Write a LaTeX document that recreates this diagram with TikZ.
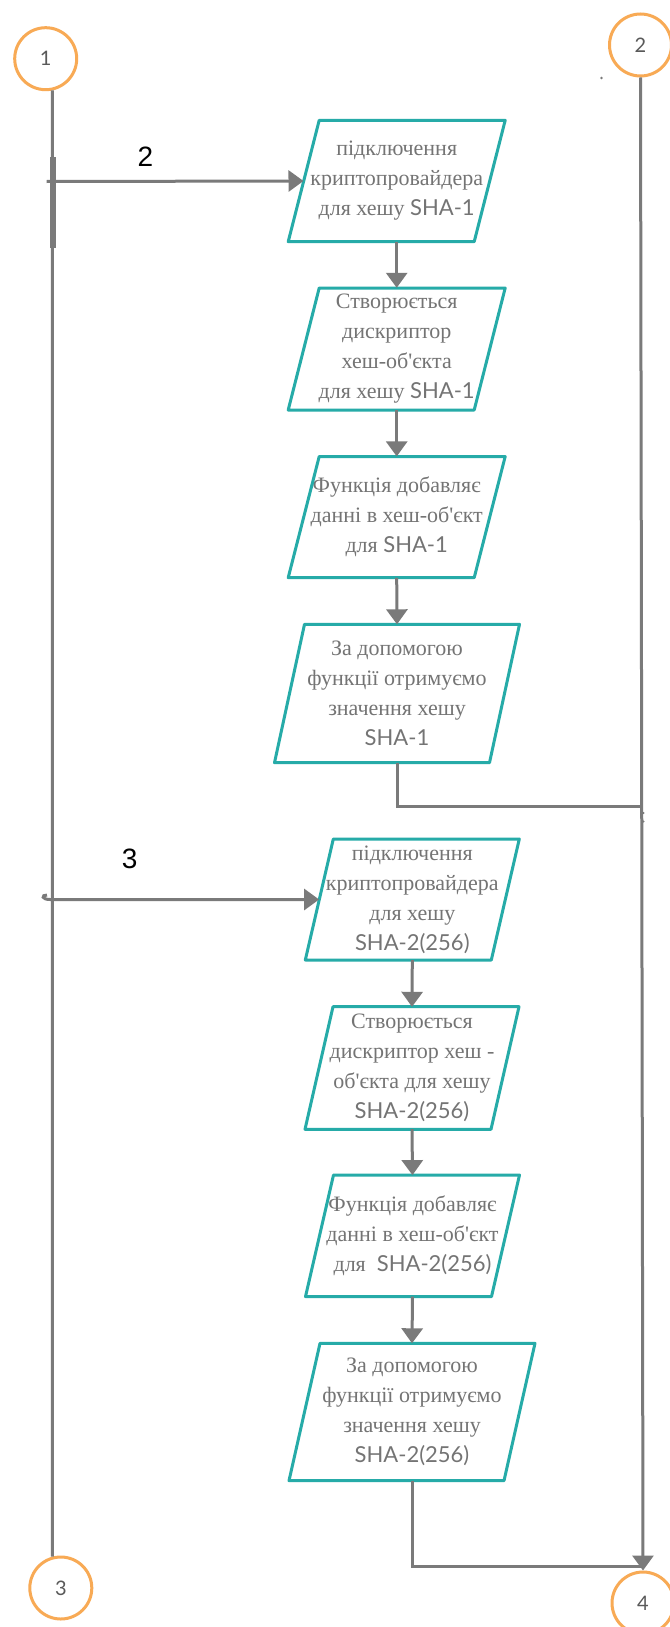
\documentclass[tikz,border=0pt]{standalone}
\usepackage{fontspec}
\usetikzlibrary{arrows.meta}
\newfontfamily\serf{Liberation Serif}
\newfontfamily\latof{Lato}
\newfontfamily\arialf{Liberation Sans}
\definecolor{tealc}{HTML}{26ABA8}
\definecolor{orangec}{HTML}{F8AA55}
\definecolor{linec}{HTML}{7A7A7A}
\definecolor{txtc}{HTML}{747474}
\newcommand\pgram[4]{%
  \draw[pline] ([shift={(-#2+#4,-#3)}]#1.center) -- ([shift={(#2+#4,-#3)}]#1.center)
   -- ([shift={(#2-#4,#3)}]#1.center) -- ([shift={(-#2-#4,#3)}]#1.center) -- cycle;}
\begin{document}
\begin{tikzpicture}[x=1pt,y=-1pt,
  pline/.style={draw=tealc,line width=3pt,line join=round},
  conn/.style={draw=linec,line width=3pt},
  tip/.style={-{Triangle[length=15pt,width=21pt]}},
  pbox/.style={inner sep=0pt,align=center,text=txtc,font=\serf\fontsize{22}{30}\selectfont},
  conncirc/.style={circle,draw=orangec,line width=3pt,minimum size=62pt,inner sep=0pt,text=black!65,font=\latof\fontsize{20}{24}\selectfont},
  lbl/.style={font=\arialf\fontsize{28}{32}\selectfont,text=black}]
\useasboundingbox (0,0) rectangle (669,1627);
\fill[white] (0,0) rectangle (669,1627);

% connector circles
\node[conncirc] (c1) at (45.7,58.7) {1};
\node[conncirc] (c2) at (640.5,45) {2};
\node[conncirc] (c3) at (60.8,1588) {3};
\node[conncirc] (c4) at (643,1603) {4};

% boxes
\node[pbox,minimum width=186pt,minimum height=121pt] (p1) at (396.7,181) {підключення\\криптопровайдера\\для хешу {\latof SHA-1}};
\node[pbox,minimum width=186pt,minimum height=122pt] (p2) at (396.7,349) {Створюється\\дискриптор\\хеш-об'єкта\\для хешу {\latof SHA-1}};
\node[pbox,minimum width=186pt,minimum height=121pt] (p3) at (396.7,517.1) {Функція добавляє\\данні в хеш-об'єкт\\для {\latof SHA-1}};
\node[pbox,minimum width=215pt,minimum height=138pt] (p4) at (397,693.5) {За допомогою\\функції отримуємо\\значення хешу\\{\latof SHA-1}};
\node[pbox,minimum width=186pt,minimum height=121pt] (p5) at (412.3,899.5) {підключення\\криптопровайдера\\для хешу\\{\latof SHA-2(256)}};
\node[pbox,minimum width=186pt,minimum height=122pt] (p6) at (412,1068) {Створюється\\дискриптор хеш -\\об'єкта для хешу\\{\latof SHA-2(256)}};
\node[pbox,minimum width=186pt,minimum height=121pt] (p7) at (412.5,1235.8) {Функція добавляє\\данні в хеш-об'єкт\\для\ \ {\latof SHA-2(256)}};
\node[pbox,minimum width=215pt,minimum height=137pt] (p8) at (412,1412) {За допомогою\\функції отримуємо\\значення хешу\\{\latof SHA-2(256)}};

\pgram{p1}{93}{60.7}{15.5}
\pgram{p2}{93}{61}{15.5}
\pgram{p3}{93}{60.6}{15.5}
\pgram{p4}{107.5}{69.2}{15}
\pgram{p5}{93}{60.5}{14}
\pgram{p6}{93}{61.3}{14}
\pgram{p7}{93}{60.8}{14}
\pgram{p8}{107.5}{68.7}{15.5}

% labels
\node[lbl] (l2) at (145.5,157) {2};
\node[lbl] (l3) at (129.6,859) {3};

% left main line
\draw[conn] (c1.-78) -- (c3.105);
\draw[draw=linec,line width=5.5pt] (53,157) -- (53,248);

% right main line
\draw[conn,tip] (c2.south) -- (c4.north);

% entries
\coordinate (s2) at (46.7,181.5);
\draw[conn,tip] (s2) -- (p1.west);
\coordinate (s3) at (47,895);
\draw[conn,tip] (s3) .. controls (41,895) and (42,899.5) .. (50,899.5) -- (p5.west);

% chain
\draw[conn,tip] (p1.south) -- (p2.north);
\draw[conn,tip] (p2.south) -- (p3.north);
\draw[conn,tip] (p3.south) -- (p4.north);
\draw[conn,tip] (p5.south) -- (p6.north);
\draw[conn,tip] (p6.south) -- (p7.north);
\draw[conn,tip] (p7.south) -- (p8.north);

% outputs
\coordinate (j1) at (641.7,806.7);
\draw[conn] (p4.south) -- (p4.south |- j1) -- (j1);
\coordinate (j2) at (643,1566.7);
\draw[conn] (p8.south) -- (p8.south |- j2) -- (j2);

% stray marks
\fill[linec] (601.5,78) circle (1.3pt);
\fill[linec] (643.5,813) circle (1.2pt);
\fill[linec] (643.5,821.5) circle (1.2pt);
\end{tikzpicture}
\end{document}
